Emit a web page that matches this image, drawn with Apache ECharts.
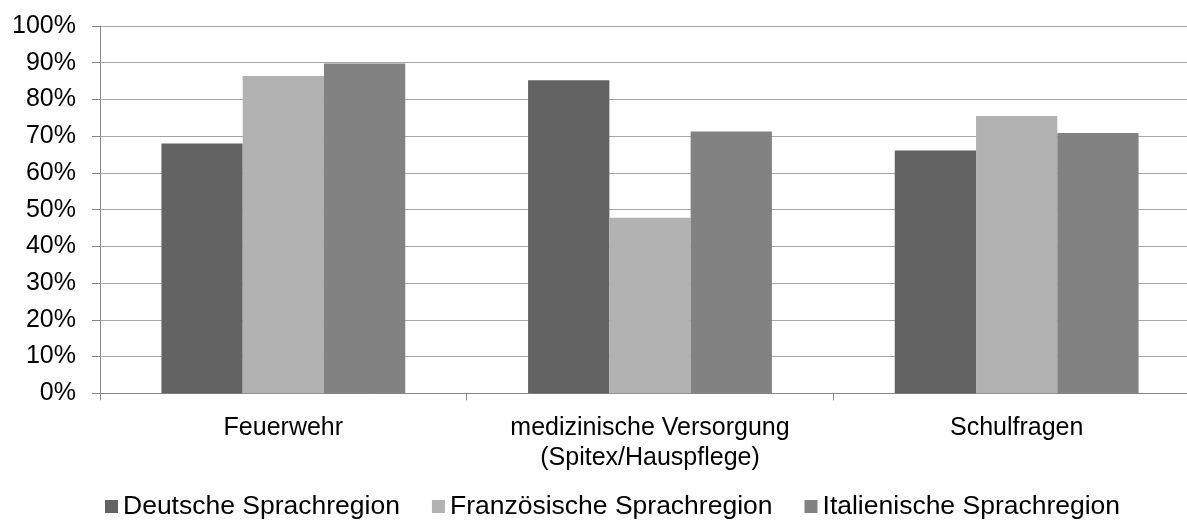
<!DOCTYPE html>
<html>
<head>
<meta charset="utf-8">
<script src="https://cdn.jsdelivr.net/npm/echarts@6/dist/echarts.min.js"></script>
<style>
html,body{margin:0;padding:0;background:#fff;}
#chart{width:1187px;height:523px;}
</style>
</head>
<body>
<div id="chart"></div>
<script>
const categories = ['Feuerwehr', 'medizinische Versorgung\n(Spitex/Hauspflege)', 'Schulfragen'];
const seriesNames = ['Deutsche Sprachregion', 'Französische Sprachregion', 'Italienische Sprachregion'];
const deutsch = [0.680, 0.852, 0.661];
const franz = [0.864, 0.478, 0.755];
const ital = [0.898, 0.713, 0.709];
const colors = ['#636363', '#b2b2b2', '#828282'];

const font = 'Liberation Sans, Arial, sans-serif';
const chart = echarts.init(document.getElementById('chart'), null, {renderer: 'canvas'});
const dataSets = [deutsch, franz, ital];
chart.setOption({
  animation: false,
  backgroundColor: '#ffffff',
  grid: {left: 100, top: 26, width: 1100, height: 367.3, containLabel: false, outerBoundsMode: 'none'},
  legend: {
    left: 100, top: 488,
    icon: 'rect', itemWidth: 13, itemHeight: 13, itemGap: 32,
    textStyle: {fontFamily: font, fontSize: 26.5, color: '#000'},
    data: seriesNames
  },
  xAxis: {
    type: 'category',
    data: categories,
    axisLine: {show: true, lineStyle: {color: '#868686', width: 1}},
    axisTick: {show: true, length: 7, alignWithLabel: false, lineStyle: {color: '#868686'}},
    axisLabel: {fontFamily: font, fontSize: 25, color: '#000', margin: 20, lineHeight: 30, interval: 0},
    splitLine: {show: false}
  },
  yAxis: {
    type: 'value',
    min: 0, max: 1, interval: 0.1,
    axisLine: {show: true, lineStyle: {color: '#868686', width: 1}},
    axisTick: {show: true, length: 8, inside: false, lineStyle: {color: '#868686'}},
    axisLabel: {fontFamily: font, fontSize: 25, color: '#000', margin: 24,
      formatter: v => Math.round(v * 100) + '%'},
    splitLine: {show: true, lineStyle: {color: '#a6a6a6', width: 1}}
  },
  series: seriesNames.map((n, i) => ({
    name: n,
    type: 'bar',
    data: dataSets[i],
    barGap: '0%',
    barCategoryGap: '33.5%',
    itemStyle: {color: colors[i]}
  }))
});
</script>
</body>
</html>
